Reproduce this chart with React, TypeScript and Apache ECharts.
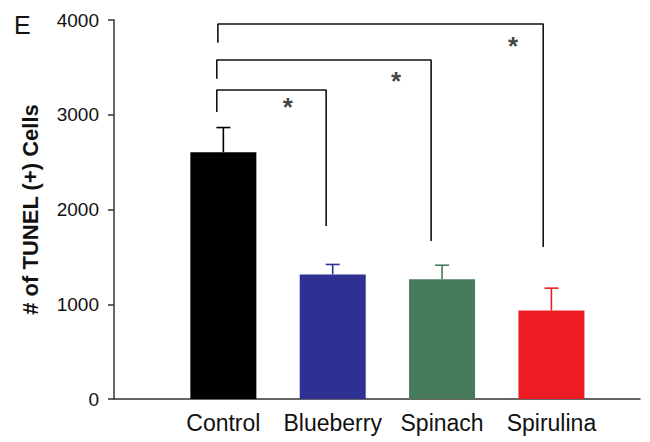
import React, { useEffect, useRef } from "react";
import * as echarts from "echarts";

const categories = ["Control", "Blueberry", "Spinach", "Spirulina"];
const positions = [1, 2, 3, 4];
const means = [2605, 1315, 1265, 935];
const errTops = [2865, 1420, 1412, 1170];
const colors = ["#000000", "#2e3192", "#487a5c", "#ed1c24"];
const yTicks = [0, 1000, 2000, 3000, 4000];

// significance brackets
const bracketLefts = [0.94, 0.94, 0.95];
const bracketLeftBottoms = [3030, 3380, 3760];
const bracketTops = [3262, 3578, 3958];
const bracketRights = [1.94, 2.9, 3.925];
const bracketRightBottoms = [1826, 1668, 1604];
const starX = [1.59, 2.58, 3.65];
const starY = [3124, 3398, 3768];

const FONT = "Liberation Sans, Arial, Helvetica, sans-serif";

export default function App() {
  const ref = useRef<HTMLDivElement>(null);
  useEffect(() => {
    if (!ref.current) return;
    const chart = echarts.init(ref.current, undefined, { renderer: "svg" });
    const bracketSeries = bracketLefts.map((xl, i) => ({
      type: "line",
      symbol: "none",
      silent: true,
      lineStyle: { color: "#111", width: 1.6 },
      data: [
        [xl, bracketLeftBottoms[i]],
        [xl, bracketTops[i]],
        [bracketRights[i], bracketTops[i]],
        [bracketRights[i], bracketRightBottoms[i]],
      ],
      z: 3,
    }));
    chart.setOption({
      animation: false,
      grid: { left: 114, right: 10, top: 20, bottom: 43, containLabel: false },
      xAxis: {
        type: "value",
        min: 0,
        max: 4.81,
        interval: 1,
        splitLine: { show: false },
        axisTick: { show: false },
        axisLine: { show: true, lineStyle: { color: "#333", width: 1.5 } },
        axisLabel: {
          show: true,
          showMaxLabel: false,
          showMinLabel: false,
          margin: 12,
          color: "#111",
          fontFamily: FONT,
          fontSize: 23,
          formatter: (v: number) => {
            const idx = positions.indexOf(Math.round(v * 100) / 100);
            return idx >= 0 ? categories[idx] : "";
          },
        },
      },
      yAxis: {
        type: "value",
        min: yTicks[0],
        max: yTicks[yTicks.length - 1],
        interval: 1000,
        splitLine: { show: false },
        axisLine: { show: true, lineStyle: { color: "#333", width: 1.5 } },
        axisTick: { show: true, length: 6, lineStyle: { color: "#333", width: 1.5 } },
        axisLabel: {
          margin: 15,
          color: "#111",
          fontFamily: FONT,
          fontSize: 19,
          formatter: (v: number) => String(v),
        },
        name: "# of TUNEL (+) Cells",
        nameLocation: "middle",
        nameGap: 73,
        nameTextStyle: {
          color: "#111",
          fontFamily: FONT,
          fontSize: 22,
          fontWeight: "bold",
        },
      },
      series: [
        {
          type: "bar",
          barWidth: 66,
          data: positions.map((p, i) => ({
            value: [p, means[i]],
            itemStyle: { color: colors[i] },
          })),
          z: 2,
        },
        {
          type: "custom",
          data: positions.map((p, i) => [p, means[i], errTops[i], i]),
          renderItem: (params: any, api: any) => {
            const x = api.value(0);
            const lo = api.coord([x, api.value(1)]);
            const hi = api.coord([x, api.value(2)]);
            const c = colors[api.value(3)];
            const hw = 7;
            return {
              type: "group",
              children: [
                {
                  type: "line",
                  shape: { x1: lo[0], y1: lo[1], x2: hi[0], y2: hi[1] },
                  style: { stroke: c, lineWidth: 1.6 },
                },
                {
                  type: "line",
                  shape: { x1: hi[0] - hw, y1: hi[1], x2: hi[0] + hw, y2: hi[1] },
                  style: { stroke: c, lineWidth: 1.6 },
                },
              ],
            };
          },
          z: 3,
        },
        ...bracketSeries,
        {
          type: "scatter",
          symbolSize: 1,
          itemStyle: { color: "rgba(0,0,0,0)" },
          data: starX.map((x, i) => [x, starY[i]]),
          label: {
            show: true,
            position: "inside",
            formatter: "*",
            color: "#111",
            fontFamily: FONT,
            fontSize: 26,
            fontWeight: "bold",
            offset: [0, 4],
          },
          z: 4,
        },
      ],
      graphic: [
        {
          type: "text",
          left: 14,
          top: 12,
          style: { text: "E", fontFamily: FONT, fontSize: 25, fill: "#111" },
        },
      ],
    });
    return () => chart.dispose();
  }, []);
  return (
    <div
      ref={ref}
      style={{ position: "absolute", left: 0, top: 0, width: 650, height: 442 }}
    />
  );
}
